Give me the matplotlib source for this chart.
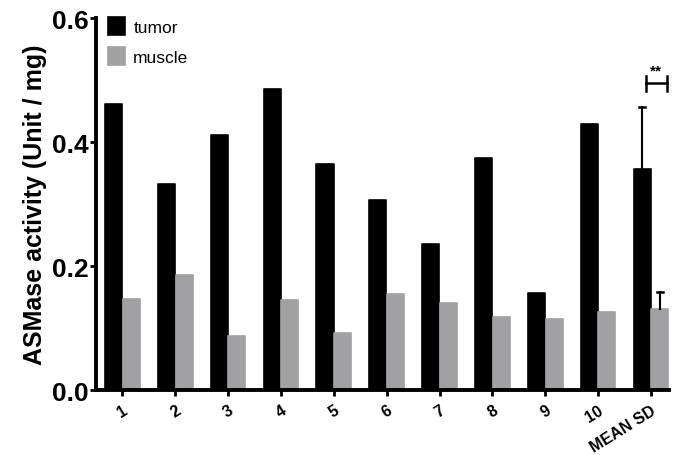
import numpy as np
import matplotlib
matplotlib.use("Agg")
import matplotlib.pyplot as plt

plt.rcParams['font.family'] = ['Liberation Sans', 'DejaVu Sans']

# ASMase activity per sample (Unit / mg)
labels = ["1", "2", "3", "4", "5", "6", "7", "8", "9", "10", "MEAN SD"]
tumor = [0.462, 0.332, 0.412, 0.486, 0.364, 0.307, 0.236, 0.375, 0.157, 0.429, 0.356]
muscle = [0.147, 0.186, 0.087, 0.145, 0.092, 0.155, 0.141, 0.118, 0.115, 0.126, 0.130]
tumor_sd = [0, 0, 0, 0, 0, 0, 0, 0, 0, 0, 0.100]
muscle_sd = [0, 0, 0, 0, 0, 0, 0, 0, 0, 0, 0.028]

black = "#000000"
grey = "#a1a1a4"

fig = plt.figure(figsize=(6.73, 4.56), dpi=100)
ax = fig.add_axes([0.1426, 0.1425, 0.8514, 0.8155])

x = np.arange(len(labels))
w = 0.333
# thin edge with round joins gives the bars softly rounded corners
ax.bar(x - w / 2, tumor, w * 0.97, color=black, edgecolor=black, linewidth=1.2,
       joinstyle='round', label="tumor")
ax.bar(x + w / 2, muscle, w * 0.97, color=grey, edgecolor=grey, linewidth=1.2,
       joinstyle='round', label="muscle")

# upper error bars on the mean group (line from bar top + cap)
cap = 0.06
for xi, val, sd in zip(np.r_[x - w / 2, x + w / 2], tumor + muscle, tumor_sd + muscle_sd):
    if sd <= 0:
        continue
    ax.plot([xi, xi], [val, val + sd], color='black', lw=1.5, zorder=3)
    ax.plot([xi - cap, xi + cap], [val + sd, val + sd], color='black', lw=1.8, zorder=3)

# significance bracket
bx0, bx1, by = 9.9, 10.3, 0.495
ax.plot([bx0, bx1], [by, by], color='black', lw=1.8, clip_on=False)
ax.plot([bx0, bx0], [by - 0.012, by + 0.012], color='black', lw=1.8, clip_on=False)
ax.plot([bx1, bx1], [by - 0.012, by + 0.012], color='black', lw=1.8, clip_on=False)
ax.text((bx0 + bx1) / 2, by + 0.01, "**", ha='center', va='bottom',
        fontsize=11, fontweight='bold')

ax.set_xlim(-0.5, 10.34)
ax.set_ylim(0, 0.6)
ax.set_yticks([0.0, 0.2, 0.4, 0.6])
ax.set_yticklabels(["0.0", "0.2", "0.4", "0.6"], fontsize=19, fontweight='bold')
ax.set_xticks(x)
ax.set_xticklabels(labels, rotation=32, ha='right', rotation_mode='anchor',
                   fontsize=11.5, fontweight='bold')
ax.set_ylabel("ASMase activity (Unit / mg)", fontsize=18, fontweight='bold',
              labelpad=4)

for side in ['top', 'right']:
    ax.spines[side].set_visible(False)
for side in ['left', 'bottom']:
    ax.spines[side].set_linewidth(2.8)
ax.tick_params(axis='y', length=4, width=2, pad=1)
ax.tick_params(axis='x', length=4, width=2, pad=5)

ax.legend(loc='upper left', bbox_to_anchor=(0.0, 1.035), frameon=False,
          fontsize=12.5, handlelength=1.0, handleheight=1.2, handletextpad=0.45,
          labelspacing=0.7, borderaxespad=0.3)

fig.savefig("out.png", dpi=100)
